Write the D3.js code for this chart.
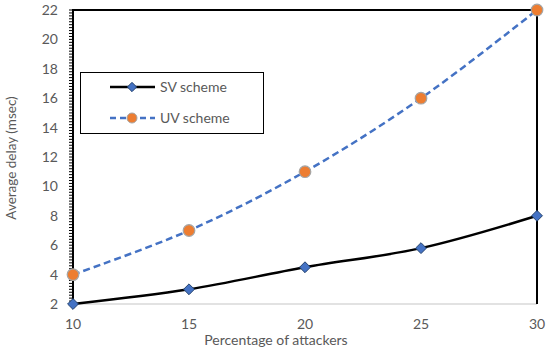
<!DOCTYPE html>
<html>
<head>
<meta charset="utf-8">
<script src="https://cdn.jsdelivr.net/npm/d3@7"></script>
<style>
  body { margin: 0; background: #fff; }
  svg text { font-family: Lato, "Liberation Sans", sans-serif; fill: #595959; }
</style>
</head>
<body>
<div id="chart"></div>
<script>
// Chart data
const attackers = [10, 15, 20, 25, 30];
const svDelay = [2, 3, 4.5, 5.8, 8];
const uvDelay = [4, 7, 11, 16, 22];
const yTicks = [2, 4, 6, 8, 10, 12, 14, 16, 18, 20, 22];
const seriesNames = ["SV scheme", "UV scheme"];

const W = 550, H = 348;
const margin = {top: 10, right: 13, bottom: 44, left: 73};
const width = W - margin.left - margin.right;
const height = H - margin.top - margin.bottom;

const svg = d3.select("#chart").append("svg")
    .attr("width", W)
    .attr("height", H);

const g = svg.append("g")
    .attr("transform", `translate(${margin.left},${margin.top})`);

const x = d3.scaleLinear().domain([10, 30]).range([0, width]);
const y = d3.scaleLinear().domain([2, 22]).range([height, 0]);

// bottom axis line (light gray)
g.append("line")
    .attr("x1", 0).attr("x2", width)
    .attr("y1", height).attr("y2", height)
    .attr("stroke", "#d9d9d9").attr("stroke-width", 1.5);

// x tick labels
g.selectAll(".xlab")
    .data(attackers)
    .enter().append("text")
    .attr("x", d => x(d))
    .attr("y", height + 25)
    .attr("text-anchor", "middle")
    .style("font-size", "14px")
    .text(d => d);

// minor ticks on y axis
const minor = d3.range(2, 22.001, 0.2);
g.selectAll(".minor")
    .data(minor)
    .enter().append("line")
    .attr("x1", -4).attr("x2", 0)
    .attr("y1", d => y(d)).attr("y2", d => y(d))
    .attr("stroke", "#000").attr("stroke-width", 1);

// y tick labels
g.selectAll(".ylab")
    .data(yTicks)
    .enter().append("text")
    .attr("x", -15)
    .attr("y", d => y(d))
    .attr("dy", "0.35em")
    .attr("text-anchor", "end")
    .style("font-size", "14px")
    .text(d => d);

// left, top and right borders
g.append("path")
    .attr("d", `M0,${height}V0H${width}V${height}`)
    .attr("fill", "none")
    .attr("stroke", "#000")
    .attr("stroke-width", 2);

// axis titles
svg.append("text")
    .attr("x", 276)
    .attr("y", 345)
    .attr("text-anchor", "middle")
    .style("font-size", "14px")
    .text("Percentage of attackers");

svg.append("text")
    .attr("transform", "translate(16,158) rotate(-90)")
    .attr("text-anchor", "middle")
    .style("font-size", "13.5px")
    .text("Average delay (msec)");

const line = d3.line()
    .x((d, i) => x(attackers[i]))
    .y(d => y(d))
    .curve(d3.curveCatmullRom.alpha(0.5));

// UV series
g.append("path")
    .attr("d", line(uvDelay))
    .attr("fill", "none")
    .attr("stroke", "#4472c4")
    .attr("stroke-width", 2.5)
    .attr("stroke-dasharray", "7,4");

// SV series
g.append("path")
    .attr("d", line(svDelay))
    .attr("fill", "none")
    .attr("stroke", "#000")
    .attr("stroke-width", 2.5);

const diamond = d3.symbol().type(d3.symbolDiamond2).size(75);

g.selectAll(".sv")
    .data(svDelay)
    .enter().append("path")
    .attr("d", diamond)
    .attr("transform", (d, i) => `translate(${x(attackers[i])},${y(d)})`)
    .attr("fill", "#4472c4")
    .attr("stroke", "#26446f")
    .attr("stroke-width", 1);

g.selectAll(".uv")
    .data(uvDelay)
    .enter().append("circle")
    .attr("cx", (d, i) => x(attackers[i]))
    .attr("cy", d => y(d))
    .attr("r", 5.8)
    .attr("fill", "#ed7d31")
    .attr("stroke", "#a5a5a5")
    .attr("stroke-width", 1.2);

// legend
const legend = svg.append("g");
legend.append("rect")
    .attr("x", 80.5).attr("y", 72.5)
    .attr("width", 183).attr("height", 61)
    .attr("fill", "#fff")
    .attr("stroke", "#000")
    .attr("stroke-width", 1);

const legRows = [
    {name: seriesNames[0], y: 87, color: "#000", dash: null, mark: "diamond"},
    {name: seriesNames[1], y: 118, color: "#4472c4", dash: "6,4", mark: "circle"}
];
legRows.forEach(r => {
    legend.append("line")
        .attr("x1", 110).attr("x2", 155)
        .attr("y1", r.y).attr("y2", r.y)
        .attr("stroke", r.color)
        .attr("stroke-width", 2.5)
        .attr("stroke-dasharray", r.dash);
    if (r.mark === "diamond") {
        legend.append("path")
            .attr("d", d3.symbol().type(d3.symbolDiamond2).size(55))
            .attr("transform", `translate(132,${r.y})`)
            .attr("fill", "#4472c4")
            .attr("stroke", "#26446f");
    } else {
        legend.append("circle")
            .attr("cx", 132).attr("cy", r.y).attr("r", 5)
            .attr("fill", "#ed7d31")
            .attr("stroke", "#a5a5a5");
    }
    legend.append("text")
        .attr("x", 160).attr("y", r.y)
        .attr("dy", "0.35em")
        .style("font-size", "14px")
        .text(r.name);
});
</script>
</body>
</html>
